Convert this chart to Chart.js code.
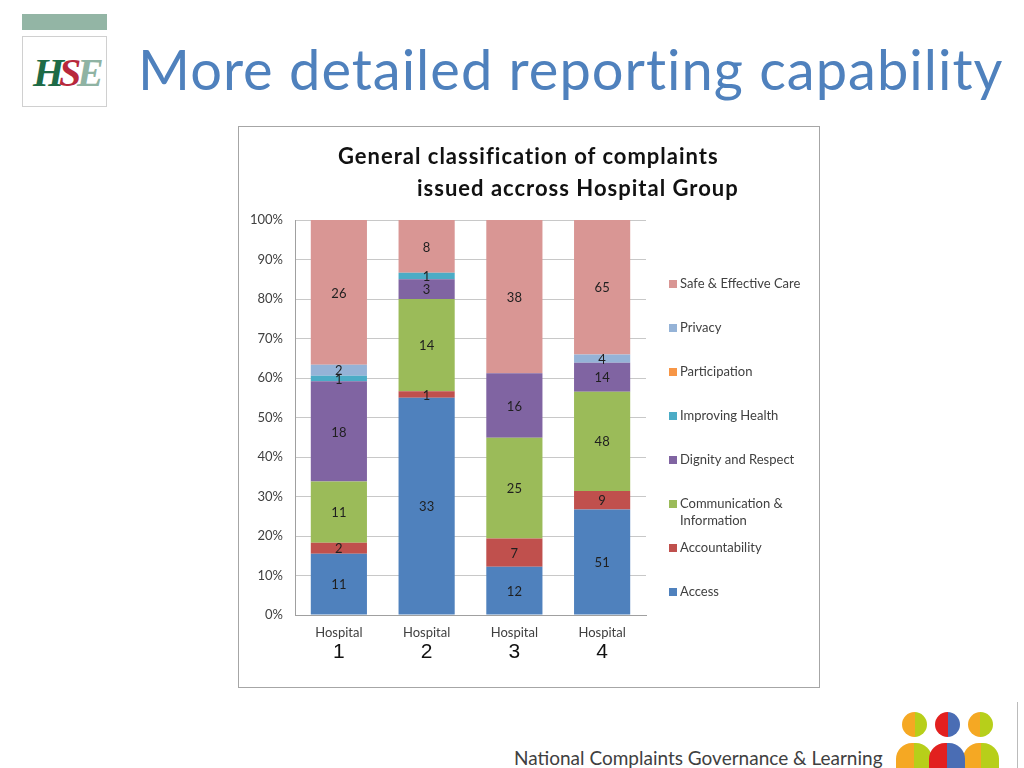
<!DOCTYPE html>
<html>
<head>
<meta charset="utf-8">
<script src="https://cdn.jsdelivr.net/npm/chart.js@4"></script>
<style>
  body { margin: 0; background: #fff; width: 1024px; height: 768px; overflow: hidden; position: relative; font-family: Lato, "Open Sans", sans-serif; }
  .logo-bar { position: absolute; left: 22px; top: 14px; width: 85px; height: 16px; background: #93b5a5; }
  .logo-box { position: absolute; left: 22px; top: 36px; width: 83px; height: 69px; border: 1px solid #d0d0d0; overflow: hidden; }
  .logo-box span { position: absolute; top: 12px; font: italic bold 40px "Liberation Serif", serif; }
  .title { position: absolute; left: 138px; top: 35px; font-size: 56px; color: #4f81bd; white-space: nowrap; letter-spacing: 1px; }
  .box { position: absolute; left: 238px; top: 126px; width: 580px; height: 560px; border: 1px solid #a6a6a6; }
  .ctitle { position: absolute; font-weight: bold; font-size: 22px; letter-spacing: 1px; color: #111; white-space: nowrap; }
  canvas#c { position: absolute; left: 0; top: 0; }
  .footer { position: absolute; left: 514px; top: 746px; font-size: 19px; color: #404040; white-space: nowrap; }
  .head { position: absolute; width: 25px; height: 25px; border-radius: 50%; }
  .body { position: absolute; width: 36px; height: 40px; border-radius: 16px 16px 0 0; }
</style>
</head>
<body>
<div class="logo-bar"></div>
<div class="logo-box">
  <span style="left:10px;color:#1e6b47;">H</span>
  <span style="left:36px;color:#b8283c;">S</span>
  <span style="left:54px;color:#8fb3a3;">E</span>
</div>
<div class="title">More detailed reporting capability</div>

<div class="box">
  <canvas id="c" width="580" height="560"></canvas>
  <div class="ctitle" style="left:99px; top:15px;">General classification of complaints</div>
  <div class="ctitle" style="left:178px; top:47px;">issued accross Hospital Group</div>
</div>

<div class="footer">National Complaints Governance &amp; Learning</div>
<div class="body" style="left:896px;top:743px;background:linear-gradient(90deg,#f5a823 50%,#b7cf1a 50%);"></div>
<div class="body" style="left:963px;top:743px;background:linear-gradient(90deg,#f5a823 50%,#b7cf1a 50%);"></div>
<div class="body" style="left:929px;top:743px;background:linear-gradient(90deg,#e2201f 50%,#4a6db4 50%);"></div>
<div class="head" style="left:902px;top:712px;background:linear-gradient(90deg,#f5a823 50%,#b7cf1a 50%);"></div>
<div class="head" style="left:935px;top:712px;background:linear-gradient(90deg,#e2201f 50%,#4a6db4 50%);"></div>
<div class="head" style="left:968px;top:712px;background:linear-gradient(90deg,#f5a823 50%,#b7cf1a 50%);"></div>
<div style="position:absolute;left:1017px;top:702px;width:1px;height:66px;background:#bbb;"></div>

<script>
const hospitals = ["1", "2", "3", "4"];
const categories = ["Access", "Accountability", "Communication & Information", "Dignity and Respect",
  "Improving Health", "Participation", "Privacy", "Safe & Effective Care"];
const colors = ["#4f81bd", "#c0504d", "#9bbb59", "#8064a2", "#4bacc6", "#f79646", "#95b3d7", "#d99694"];

// complaint counts per category, one value per hospital
const access = [11, 33, 12, 51];
const accountability = [2, 1, 7, 9];
const communication = [11, 14, 25, 48];
const dignity = [18, 3, 16, 14];
const improvingHealth = [1, 1, 0, 0];
const participation = [0, 0, 0, 0];
const privacy = [2, 0, 0, 4];
const safeCare = [26, 8, 38, 65];

const yTicks = [0, 10, 20, 30, 40, 50, 60, 70, 80, 90, 100];

const counts = [access, accountability, communication, dignity, improvingHealth, participation, privacy, safeCare];
const totals = hospitals.map((h, i) => counts.reduce((s, arr) => s + arr[i], 0));

const datasets = categories.map((name, k) => ({
  label: name,
  counts: counts[k],
  data: counts[k].map((v, i) => v / totals[i] * 100),
  backgroundColor: colors[k],
  borderWidth: 0,
  barPercentage: 0.64,
  categoryPercentage: 1.0
}));

const segmentLabels = {
  id: "segmentLabels",
  afterDatasetsDraw(chart) {
    const ctx = chart.ctx;
    ctx.save();
    ctx.font = "13px Lato, sans-serif";
    ctx.fillStyle = "#1f1f1f";
    ctx.textAlign = "center";
    ctx.textBaseline = "middle";
    chart.data.datasets.forEach((ds, d) => {
      chart.getDatasetMeta(d).data.forEach((bar, i) => {
        if (ds.counts[i] > 0) ctx.fillText(ds.counts[i], bar.x, (bar.y + bar.base) / 2 + 1);
      });
    });
    ctx.restore();
  }
};

const hospitalLabels = {
  id: "hospitalLabels",
  afterDraw(chart) {
    const ctx = chart.ctx, xs = chart.scales.x, bottom = chart.chartArea.bottom;
    ctx.save();
    ctx.textAlign = "center";
    ctx.textBaseline = "middle";
    hospitals.forEach((h, i) => {
      const x = xs.getPixelForValue(i);
      ctx.font = "13px Lato, sans-serif";
      ctx.fillStyle = "#404040";
      ctx.fillText("Hospital", x, bottom + 18);
      ctx.font = "21px 'Liberation Sans', Arial, sans-serif";
      ctx.fillStyle = "#111";
      ctx.fillText(h, x, bottom + 37);
    });
    ctx.restore();
  }
};

const sideLegend = {
  id: "sideLegend",
  afterDraw(chart) {
    const ctx = chart.ctx;
    const x = chart.chartArea.right + 23;
    ctx.save();
    ctx.font = "13px Lato, sans-serif";
    ctx.textBaseline = "middle";
    const items = chart.data.datasets.slice().reverse();
    items.forEach((ds, j) => {
      const y = 157 + j * 44;
      ctx.fillStyle = ds.backgroundColor;
      ctx.fillRect(x, y - 4, 8, 8);
      ctx.fillStyle = "#404040";
      if (ds.label === "Communication & Information") {
        ctx.fillText("Communication &", x + 11, y);
        ctx.fillText("Information", x + 11, y + 17);
      } else {
        ctx.fillText(ds.label, x + 11, y);
      }
    });
    ctx.restore();
  }
};

new Chart(document.getElementById("c"), {
  type: "bar",
  data: { labels: hospitals, datasets: datasets },
  options: {
    responsive: false,
    animation: false,
    layout: { padding: { left: 0, top: 93, right: 173, bottom: 72 } },
    plugins: { legend: { display: false }, tooltip: { enabled: false } },
    scales: {
      x: {
        stacked: true,
        grid: { display: false },
        border: { color: "#a0a0a0" },
        ticks: { display: false },
        afterFit(s) { s.height = 0; }
      },
      y: {
        stacked: true,
        min: 0,
        max: 100,
        afterBuildTicks(s) { s.ticks = yTicks.map(v => ({ value: v })); },
        grid: { color: "#c8c8c8", drawTicks: false },
        border: { color: "#a0a0a0" },
        ticks: {
          padding: 12,
          color: "#404040",
          font: { family: "Lato, sans-serif", size: 13 },
          callback: v => v + "%"
        },
        afterFit(s) { s.width = 56; }
      }
    }
  },
  plugins: [segmentLabels, hospitalLabels, sideLegend]
});
</script>
</body>
</html>
